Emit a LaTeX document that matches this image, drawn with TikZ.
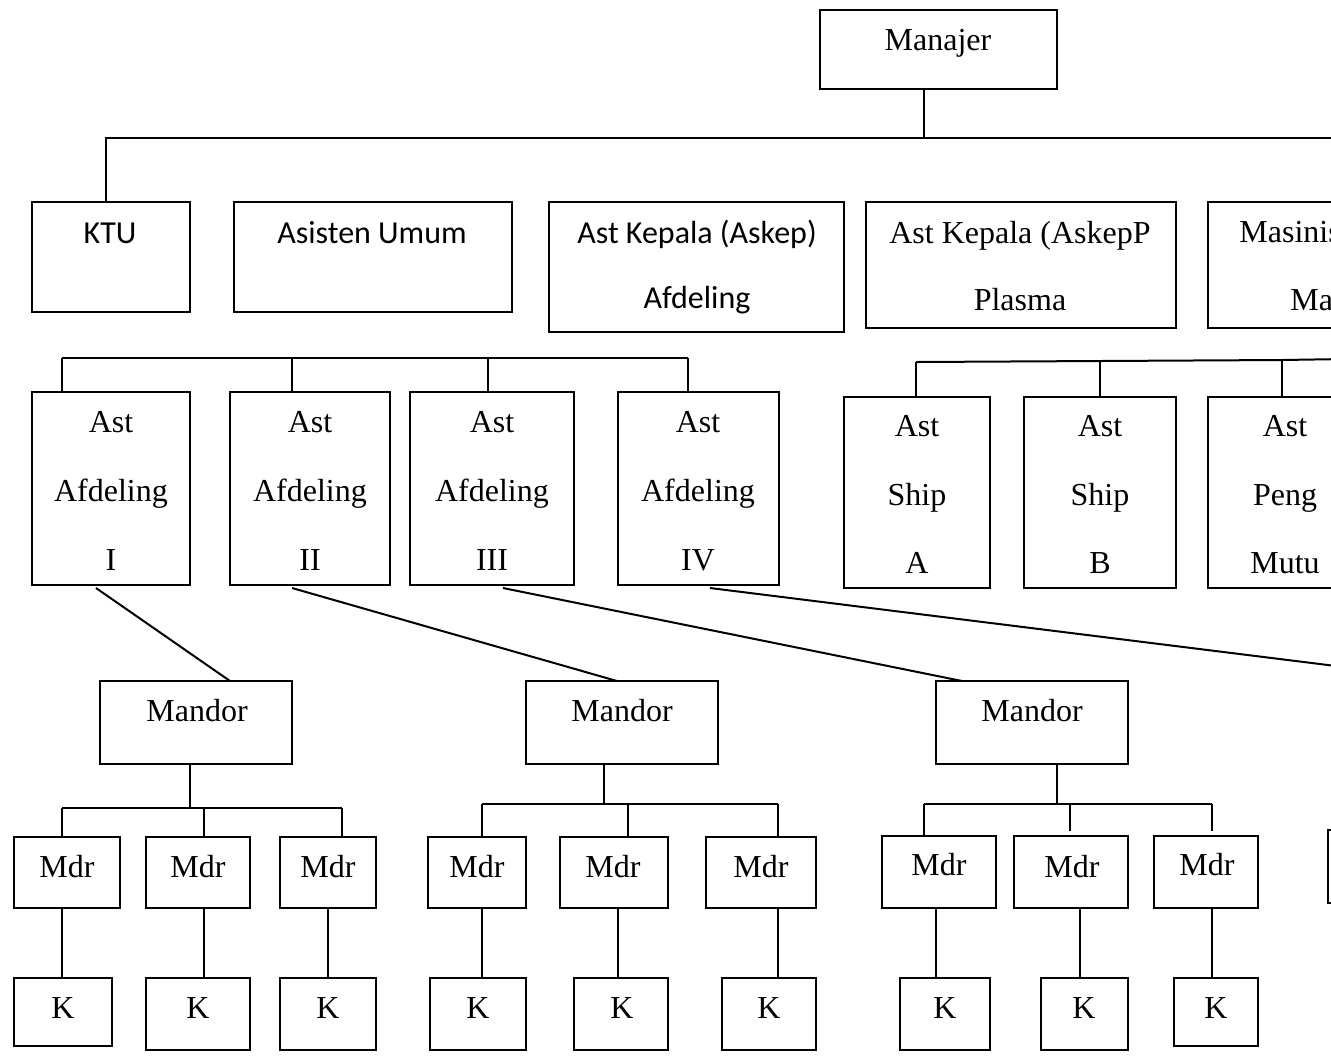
\documentclass[tikz,border=0pt]{standalone}
\usepackage{fontspec}
\setmainfont{Liberation Serif}
\newfontfamily\calib{Carlito}
\usetikzlibrary{fit}
\begin{document}
\begin{tikzpicture}[x=0.5pt,y=-0.5pt,
  box/.style={draw, line width=1pt, inner sep=0pt},
  ln/.style={line width=1pt},
  tx/.style={anchor=base, inner sep=0pt, font=\fontsize{16}{19}\selectfont},
  cx/.style={anchor=base, inner sep=0pt, font=\calib\fontsize{16}{19}\selectfont}]
\newcommand\bx[5]{\node[box, fit={(#2,#3) (#4,#5)}] (#1) {};}
\useasboundingbox (0,0) rectangle (1331,1057);
\clip (0,0) rectangle (1331,1057);
% row 1
\bx{man}{820}{10}{1057}{89}
\node[tx] (man-t) at (938,50) {Manajer};
% row 2
\bx{ktu}{32}{202}{190}{312}
\node[cx] (ktu-t) at (110,243) {KTU};
\bx{asu}{234}{202}{512}{312}
\node[cx] (asu-t) at (372,243) {Asisten Umum};
\bx{askep}{549}{202}{844}{332}
\node[cx] (askep-t1) at (697,243) {Ast Kepala (Askep)};
\node[cx] (askep-t2) at (697,308) {Afdeling};
\bx{askepp}{866}{202}{1176}{328}
\node[tx] (askepp-t1) at (1020,243) {Ast Kepala (AskepP};
\node[tx] (askepp-t2) at (1020,310) {Plasma};
\bx{mas}{1208}{202}{1420}{328}
\node[tx, anchor=base west] (mas-t1) at (1239,242) {Masinis};
\node[tx, anchor=base west] (mas-t2) at (1290,310) {Ma};
% bus 1
\coordinate (bA) at (106,138);
\coordinate (bB) at (1345,138);
\coordinate (mdrop) at (924,138);
\draw[ln] (man.south -| mdrop) -- (mdrop);
\draw[ln] (bB) -- (bA) -- (bA |- ktu.north);
% row 3 left
\bx{afd1}{32}{392}{190}{585}
\bx{afd2}{230}{392}{390}{585}
\bx{afd3}{410}{392}{574}{585}
\bx{afd4}{618}{392}{779}{585}
\foreach \n/\x/\r in {afd1/111/I, afd2/310/II, afd3/492/III, afd4/698/IV}{
  \node[tx] (\n-t1) at (\x,432) {Ast};
  \node[tx] (\n-t2) at (\x,501) {Afdeling};
  \node[tx] (\n-t3) at (\x,570) {\r};
}
\coordinate (a1) at (62,358);
\coordinate (a2) at (292,358);
\coordinate (a3) at (488,358);
\coordinate (a4) at (688,358);
\draw[ln] (a1) -- (a4);
\draw[ln] (a1) -- (a1 |- afd1.north);
\draw[ln] (a2) -- (a2 |- afd2.north);
\draw[ln] (a3) -- (a3 |- afd3.north);
\draw[ln] (a4) -- (a4 |- afd4.north);
% row 3 right
\bx{shipa}{844}{397}{990}{588}
\bx{shipb}{1024}{397}{1176}{588}
\bx{peng}{1208}{397}{1362}{588}
\node[tx] (shipa-t1) at (917,436) {Ast};
\node[tx] (shipa-t2) at (917,505) {Ship};
\node[tx] (shipa-t3) at (917,573) {A};
\node[tx] (shipb-t1) at (1100,436) {Ast};
\node[tx] (shipb-t2) at (1100,505) {Ship};
\node[tx] (shipb-t3) at (1100,573) {B};
\node[tx] (peng-t1) at (1285,436) {Ast};
\node[tx] (peng-t2) at (1285,505) {Peng};
\node[tx] (peng-t3) at (1285,573) {Mutu};
\coordinate (b1) at (916,362);
\coordinate (b2) at (1100,361);
\coordinate (b3) at (1282,360);
\coordinate (bE) at (1345,359);
\draw[ln] (b1) -- (b2) -- (b3) -- (bE);
\draw[ln] (b1) -- (b1 |- shipa.north);
\draw[ln] (b2) -- (b2 |- shipb.north);
\draw[ln] (b3) -- (b3 |- peng.north);
% mandor
\bx{mand1}{100}{681}{292}{764}
\bx{mand2}{526}{681}{718}{764}
\bx{mand3}{936}{681}{1128}{764}
\node[tx] (mand1-t) at (197,721) {Mandor};
\node[tx] (mand2-t) at (622,721) {Mandor};
\node[tx] (mand3-t) at (1032,721) {Mandor};
% diagonals
\coordinate (d1) at (96,588);   \coordinate (e1) at (230,681);
\coordinate (d2) at (292,588);  \coordinate (e2) at (617,681);
\coordinate (d3) at (503,588);  \coordinate (e3) at (962,681);
\coordinate (d4) at (710,588);  \coordinate (e4) at (1400,674);
\draw[ln] (d1) -- (e1);
\draw[ln] (d2) -- (e2);
\draw[ln] (d3) -- (e3);
\draw[ln] (d4) -- (e4);
% group 1
\bx{m11}{14}{837}{120}{908}
\bx{m12}{146}{837}{250}{908}
\bx{m13}{280}{837}{376}{908}
\bx{k11}{14}{978}{112}{1046}
\bx{k12}{146}{978}{250}{1050}
\bx{k13}{280}{978}{376}{1050}
\node[tx] (m11-t) at (67,877) {Mdr};
\node[tx] (m12-t) at (198,877) {Mdr};
\node[tx] (m13-t) at (328,877) {Mdr};
\node[tx] (k11-t) at (63,1018) {K};
\node[tx] (k12-t) at (198,1018) {K};
\node[tx] (k13-t) at (328,1018) {K};
\coordinate (g1) at (190,808);
\coordinate (g11) at (62,808);
\coordinate (g12) at (204,808);
\coordinate (g13) at (342,808);
\draw[ln] (mand1.south -| g1) -- (g1);
\draw[ln] (g11) -- (g13);
\draw[ln] (g11) -- (g11 |- m11.north);
\draw[ln] (g12) -- (g12 |- m12.north);
\draw[ln] (g13) -- (g13 |- m13.north);
\coordinate (h11) at (62,908);
\coordinate (h12) at (204,908);
\coordinate (h13) at (328,908);
\draw[ln] (h11) -- (h11 |- k11.north);
\draw[ln] (h12) -- (h12 |- k12.north);
\draw[ln] (h13) -- (h13 |- k13.north);
% group 2
\bx{m21}{428}{837}{526}{908}
\bx{m22}{560}{837}{668}{908}
\bx{m23}{706}{837}{816}{908}
\bx{k21}{430}{978}{526}{1050}
\bx{k22}{574}{978}{668}{1050}
\bx{k23}{722}{978}{816}{1050}
\node[tx] (m21-t) at (477,877) {Mdr};
\node[tx] (m22-t) at (613,877) {Mdr};
\node[tx] (m23-t) at (761,877) {Mdr};
\node[tx] (k21-t) at (478,1018) {K};
\node[tx] (k22-t) at (622,1018) {K};
\node[tx] (k23-t) at (769,1018) {K};
\coordinate (g2) at (604,804);
\coordinate (g21) at (482,804);
\coordinate (g22) at (628,804);
\coordinate (g23) at (778,804);
\draw[ln] (mand2.south -| g2) -- (g2);
\draw[ln] (g21) -- (g23);
\draw[ln] (g21) -- (g21 |- m21.north);
\draw[ln] (g22) -- (g22 |- m22.north);
\draw[ln] (g23) -- (g23 |- m23.north);
\coordinate (h21) at (482,908);
\coordinate (h22) at (618,908);
\coordinate (h23) at (778,908);
\draw[ln] (h21) -- (h21 |- k21.north);
\draw[ln] (h22) -- (h22 |- k22.north);
\draw[ln] (h23) -- (h23 |- k23.north);
% group 3
\bx{m31}{882}{836}{996}{908}
\bx{m32}{1014}{836}{1128}{908}
\bx{m33}{1154}{836}{1258}{908}
\bx{m34}{1328}{830}{1420}{903}
\bx{k31}{900}{978}{990}{1050}
\bx{k32}{1041}{978}{1128}{1050}
\bx{k33}{1174}{978}{1258}{1046}
\node[tx] (m31-t) at (939,875) {Mdr};
\node[tx] (m32-t) at (1072,877) {Mdr};
\node[tx] (m33-t) at (1207,875) {Mdr};
\node[tx] (k31-t) at (945,1018) {K};
\node[tx] (k32-t) at (1084,1018) {K};
\node[tx] (k33-t) at (1216,1018) {K};
\coordinate (g3) at (1057,804);
\coordinate (g31) at (924,804);
\coordinate (g32) at (1070,804);
\coordinate (g33) at (1212,804);
\coordinate (s32) at (1070,831);
\coordinate (s33) at (1212,831);
\draw[ln] (mand3.south -| g3) -- (g3);
\draw[ln] (g31) -- (g33);
\draw[ln] (g31) -- (g31 |- m31.north);
\draw[ln] (g32) -- (s32);
\draw[ln] (g33) -- (s33);
\coordinate (h31) at (936,908);
\coordinate (h32) at (1080,908);
\coordinate (h33) at (1212,908);
\draw[ln] (h31) -- (h31 |- k31.north);
\draw[ln] (h32) -- (h32 |- k32.north);
\draw[ln] (h33) -- (h33 |- k33.north);
\end{tikzpicture}
\end{document}
